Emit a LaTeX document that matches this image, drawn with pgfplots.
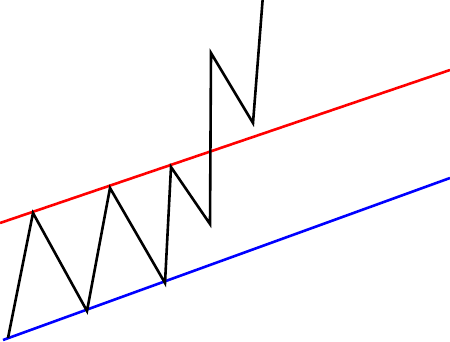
\documentclass[border=0pt]{standalone}
\usepackage{pgfplots}
\pgfplotsset{compat=1.18}
\begin{document}
\begin{tikzpicture}
\begin{axis}[scale only axis, width=450bp, height=365bp, hide axis,
  xmin=0, xmax=450, ymin=0, ymax=365, y dir=reverse, clip=true]
\addplot[red, line width=2.6bp] coordinates {(0,223) (450,70)};
\addplot[blue, line width=2.6bp] coordinates {(3,340) (450,178)};
\addplot[black, line width=2.6bp] coordinates {(8,338) (33,213) (87,311) (110,188) (165,283) (171,167) (210,224) (211,53) (253,123) (263,-5)};
\end{axis}
\end{tikzpicture}
\end{document}
